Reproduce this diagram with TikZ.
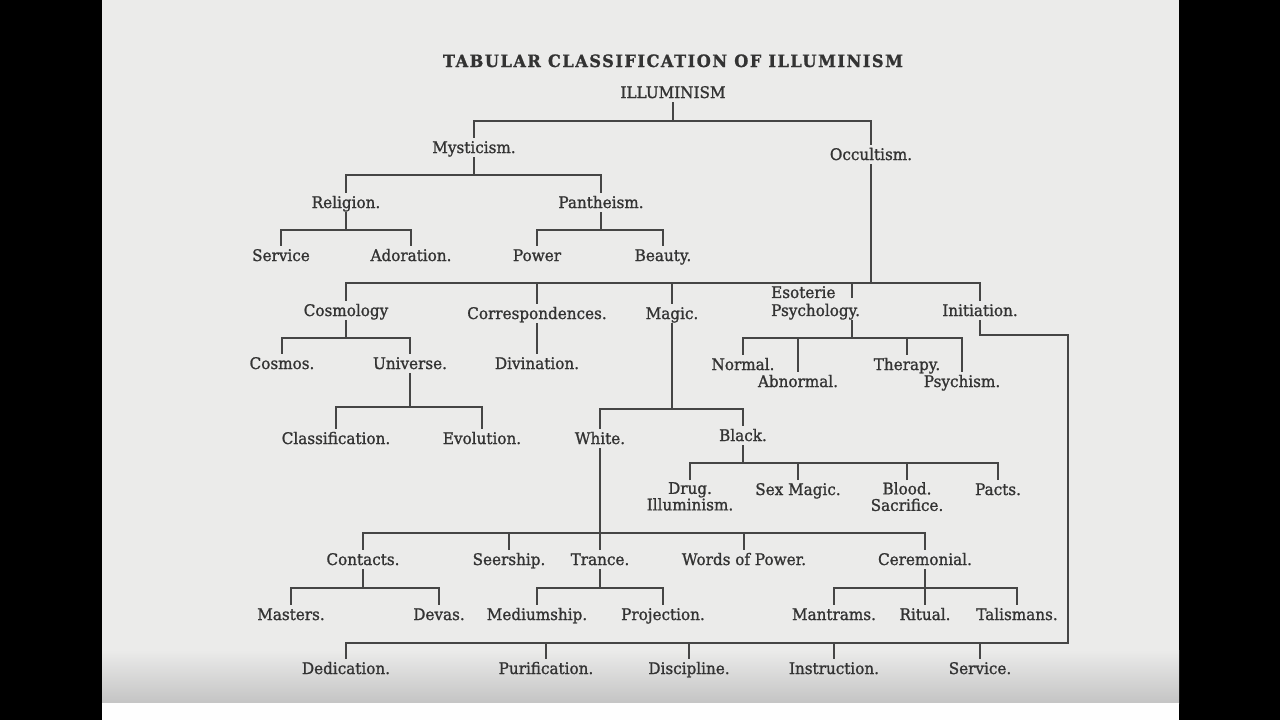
\documentclass[tikz,border=0pt]{standalone}
\usepackage{fontspec}
\setmainfont[FakeBold=1.2, FakeStretch=0.95]{DejaVu Serif}
\usepackage{xcolor}
\usepackage{tikz}
\usetikzlibrary{positioning,calc}
\definecolor{ilPage}{HTML}{EBEBEA}
\definecolor{ilShade}{HTML}{C4C4C4}
\definecolor{ilInk}{HTML}{333333}
\definecolor{ilRule}{HTML}{454545}

\begin{document}
\begin{tikzpicture}[
  x=1pt, y=-1pt,
  font=\fontsize{16}{18}\selectfont,
  % one label of the table, placed on its baseline
  lbl/.style={
    anchor=base, text=ilInk,
    inner xsep=1pt, inner ysep=3pt,
    text height=12pt, text depth=1pt
  },
  % labels set on two lines
  twoline/.style={
    anchor=north, text=ilInk, align=center,
    inner xsep=1pt, inner ysep=2pt,
    font=\fontsize{16}{16.5}\selectfont
  },
  title/.style={
    anchor=base, text=ilInk,
    font=\bfseries\fontsize{17}{18}\selectfont\addfontfeature{LetterSpace=9}
  },
  link/.style={draw=ilRule, line width=1.2pt}
]

% ---- page -----------------------------------------------------------------
\useasboundingbox (0,0) rectangle (1280,720);
\fill[black] (0,0) rectangle (1280,720);
\fill[ilPage] (102,0) rectangle (1179,705);
\shade[top color=ilPage, bottom color=ilShade] (102,650) rectangle (1179,703);
\fill[white!94!ilPage] (102,703) rectangle (1179,720);

% ---- title ----------------------------------------------------------------
\node[title] (title) at (673,67) {TABULAR CLASSIFICATION OF ILLUMINISM};

% ---- labels ---------------------------------------------------------------
\node[lbl] (illum) at (673,98) {ILLUMINISM};

\node[lbl] (mys) at (474,153) {Mysticism.};
\node[lbl] (occ) at (871,160) {Occultism.};

\node[lbl] (rel)   at (346,208) {Religion.};
\node[lbl] (panth) at (601,208) {Pantheism.};

\node[lbl] (serv)   at (281,261) {Service};
\node[lbl] (ador)   at (411,261) {Adoration.};
\node[lbl] (power)  at (537,261) {Power};
\node[lbl] (beauty) at (663,261) {Beauty.};

\node[lbl] (cosmol) at (346,316) {Cosmology};
\node[lbl] (corr)   at (537,319) {Correspondences.};
\node[lbl] (magic)  at (672,319) {Magic.};
\node[anchor=north west, text=ilInk, align=left, inner sep=1pt,
      font=\fontsize{16}{18}\selectfont] (eso) at (770,285) {Esoterie\\Psychology.};
\node[lbl] (init)   at (980,316) {Initiation.};

\node[lbl] (cosmos)  at (282,369) {Cosmos.};
\node[lbl] (univ)    at (410,369) {Universe.};
\node[lbl] (divin)   at (537,369) {Divination.};
\node[lbl] (normal)  at (743,370) {Normal.};
\node[lbl] (abnorm)  at (798,387) {Abnormal.};
\node[lbl] (therapy) at (907,370) {Therapy.};
\node[lbl] (psych)   at (962,387) {Psychism.};

\node[lbl] (classif) at (336,444) {Classification.};
\node[lbl] (evol)    at (482,444) {Evolution.};
\node[lbl] (white)   at (600,444) {White.};
\node[lbl] (black)   at (743,441) {Black.};

\node[twoline] (drug)  at (690,480) {Drug.\\Illuminism.};
\node[lbl]     (sexm)  at (798,495) {Sex Magic.};
\node[twoline] (blood) at (907,480) {Blood.\\Sacrifice.};
\node[lbl]     (pacts) at (998,495) {Pacts.};

\node[lbl] (cont)   at (363,565) {Contacts.};
\node[lbl] (seer)   at (509,565) {Seership.};
\node[lbl] (trance) at (600,565) {Trance.};
\node[lbl] (words)  at (744,565) {Words of Power.};
\node[lbl] (cer)    at (925,565) {Ceremonial.};

\node[lbl] (mast)   at (291,620) {Masters.};
\node[lbl] (devas)  at (439,620) {Devas.};
\node[lbl] (medium) at (537,620) {Mediumship.};
\node[lbl] (proj)   at (663,620) {Projection.};
\node[lbl] (mant)   at (834,620) {Mantrams.};
\node[lbl] (ritual) at (925,620) {Ritual.};
\node[lbl] (talis)  at (1017,620) {Talismans.};

\node[lbl] (ded)   at (346,674) {Dedication.};
\node[lbl] (pur)   at (546,674) {Purification.};
\node[lbl] (disc)  at (689,674) {Discipline.};
\node[lbl] (instr) at (834,674) {Instruction.};
\node[lbl] (servb) at (980,674) {Service.};

% ---- bus levels -----------------------------------------------------------
\coordinate (bA) at (0,121);
\coordinate (bB) at (0,175);
\coordinate (bC) at (0,230);
\coordinate (bD) at (0,283);
\coordinate (bE) at (0,338);
\coordinate (bF) at (0,407);
\coordinate (bG) at (0,409);
\coordinate (bH) at (0,463);
\coordinate (bJ) at (0,533);
\coordinate (bK) at (0,588);
\coordinate (bL) at (0,643);
\coordinate (esoin)  at (852,298);
\coordinate (esoout) at (852,320);
\coordinate (turn)   at (1068,335);

% ---- connectors -----------------------------------------------------------
\draw[link] (illum.south) -- (illum.south |- bA);
\draw[link] (mys.north) -- (mys.north |- bA) -| (occ.north);

\draw[link] (mys.south) -- (mys.south |- bB);
\draw[link] (rel.north) -- (rel.north |- bB) -| (panth.north);
\draw[link] (rel.south) -- (rel.south |- bC);
\draw[link] (serv.north) -- (serv.north |- bC) -| (ador.north);
\draw[link] (panth.south) -- (panth.south |- bC);
\draw[link] (power.north) -- (power.north |- bC) -| (beauty.north);

\draw[link] (occ.south) -- (occ.south |- bD);
\draw[link] (cosmol.north) -- (cosmol.north |- bD) -| (init.north);
\draw[link] (corr.north) -- (corr.north |- bD);
\draw[link] (magic.north) -- (magic.north |- bD);
\draw[link] (esoin) -- (esoin |- bD);

\draw[link] (cosmol.south) -- (cosmol.south |- bE);
\draw[link] (cosmos.north) -- (cosmos.north |- bE) -| (univ.north);
\draw[link] (univ.south) -- (univ.south |- bF);
\draw[link] (classif.north) -- (classif.north |- bF) -| (evol.north);
\draw[link] (corr.south) -- (divin.north);

\draw[link] (esoout) -- (esoout |- bE);
\draw[link] (normal.north) -- (normal.north |- bE) -| (psych.north);
\draw[link] (abnorm.north) -- (abnorm.north |- bE);
\draw[link] (therapy.north) -- (therapy.north |- bE);

\draw[link] (magic.south) -- (magic.south |- bG);
\draw[link] (white.north) -- (white.north |- bG) -| (black.north);
\draw[link] (black.south) -- (black.south |- bH);
\draw[link] (drug.north) -- (drug.north |- bH) -| (pacts.north);
\draw[link] (sexm.north) -- (sexm.north |- bH);
\draw[link] (blood.north) -- (blood.north |- bH);

\draw[link] (white.south) -- (trance.north);
\draw[link] (cont.north) -- (cont.north |- bJ) -| (cer.north);
\draw[link] (seer.north) -- (seer.north |- bJ);
\draw[link] (words.north) -- (words.north |- bJ);
\draw[link] (cont.south) -- (cont.south |- bK);
\draw[link] (mast.north) -- (mast.north |- bK) -| (devas.north);
\draw[link] (trance.south) -- (trance.south |- bK);
\draw[link] (medium.north) -- (medium.north |- bK) -| (proj.north);
\draw[link] (cer.south) -- (cer.south |- bK);
\draw[link] (mant.north) -- (mant.north |- bK) -| (talis.north);
\draw[link] (ritual.north) -- (ritual.north |- bK);

\draw[link] (init.south) |- (turn) -- (turn |- bL) -| (ded.north);
\draw[link] (pur.north) -- (pur.north |- bL);
\draw[link] (disc.north) -- (disc.north |- bL);
\draw[link] (instr.north) -- (instr.north |- bL);
\draw[link] (servb.north) -- (servb.north |- bL);

\end{tikzpicture}
\end{document}
